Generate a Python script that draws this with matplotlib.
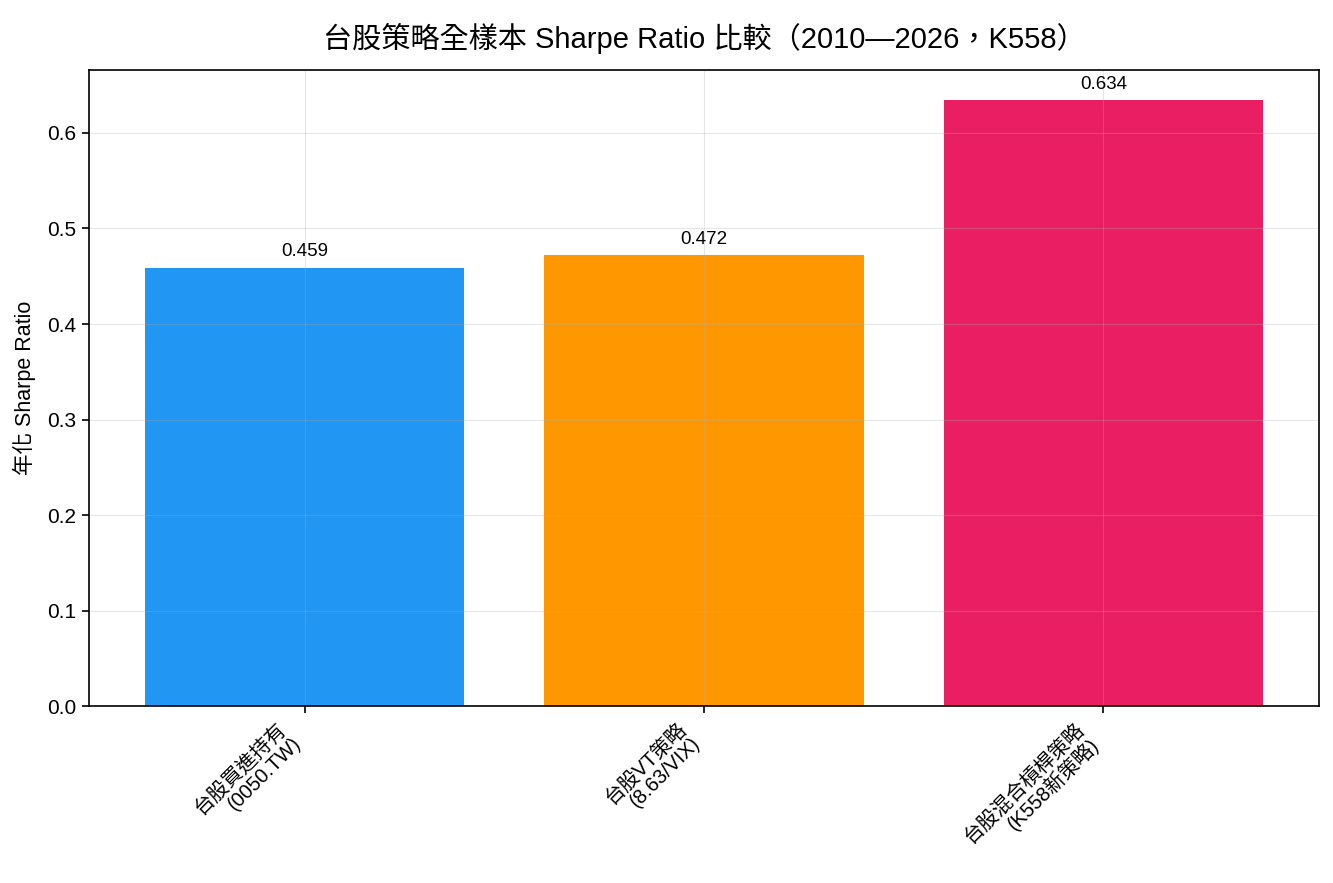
import matplotlib
matplotlib.use("Agg")
import matplotlib.pyplot as plt
import numpy as np

plt.rcParams['font.family'] = ['Liberation Sans', 'Noto Sans CJK TC', 'DejaVu Sans']

strategies = ['台股買進持有\n(0050.TW)', '台股VT策略\n(8.63/VIX)', '台股混合槓桿策略\n(K558新策略)']
sharpe = [0.459, 0.472, 0.634]
colors = ['#2196F3', '#FF9800', '#E91E63']

fig, ax = plt.subplots(figsize=(13.33, 8.83), dpi=100)
fig.subplots_adjust(left=0.0668, right=0.9895, top=0.9207, bottom=0.2)

x = np.arange(len(strategies))
bars = ax.bar(x, sharpe, width=0.8, color=colors)

for b, v in zip(bars, sharpe):
    ax.text(b.get_x() + b.get_width() / 2, v + 0.008, f"{v:.3f}",
            ha='center', va='bottom', fontsize=13.5)

ax.set_xticks(x)
ax.set_xticklabels(strategies, rotation=45, ha='right', fontsize=14.5, linespacing=1.05)
ax.tick_params(axis='both', length=5, width=1.2, pad=4)
ax.tick_params(axis='y', labelsize=15)
for s in ax.spines.values():
    s.set_linewidth(1.2)
ax.set_ylabel('年化 Sharpe Ratio', fontsize=15.5, labelpad=8)
ax.set_title('台股策略全樣本 Sharpe Ratio 比較（2010—2026，K558）', fontsize=21, pad=16)
ax.set_ylim(0, max(sharpe) * 1.05)
ax.grid(True, alpha=0.3)

plt.savefig('out.png', dpi=100)
